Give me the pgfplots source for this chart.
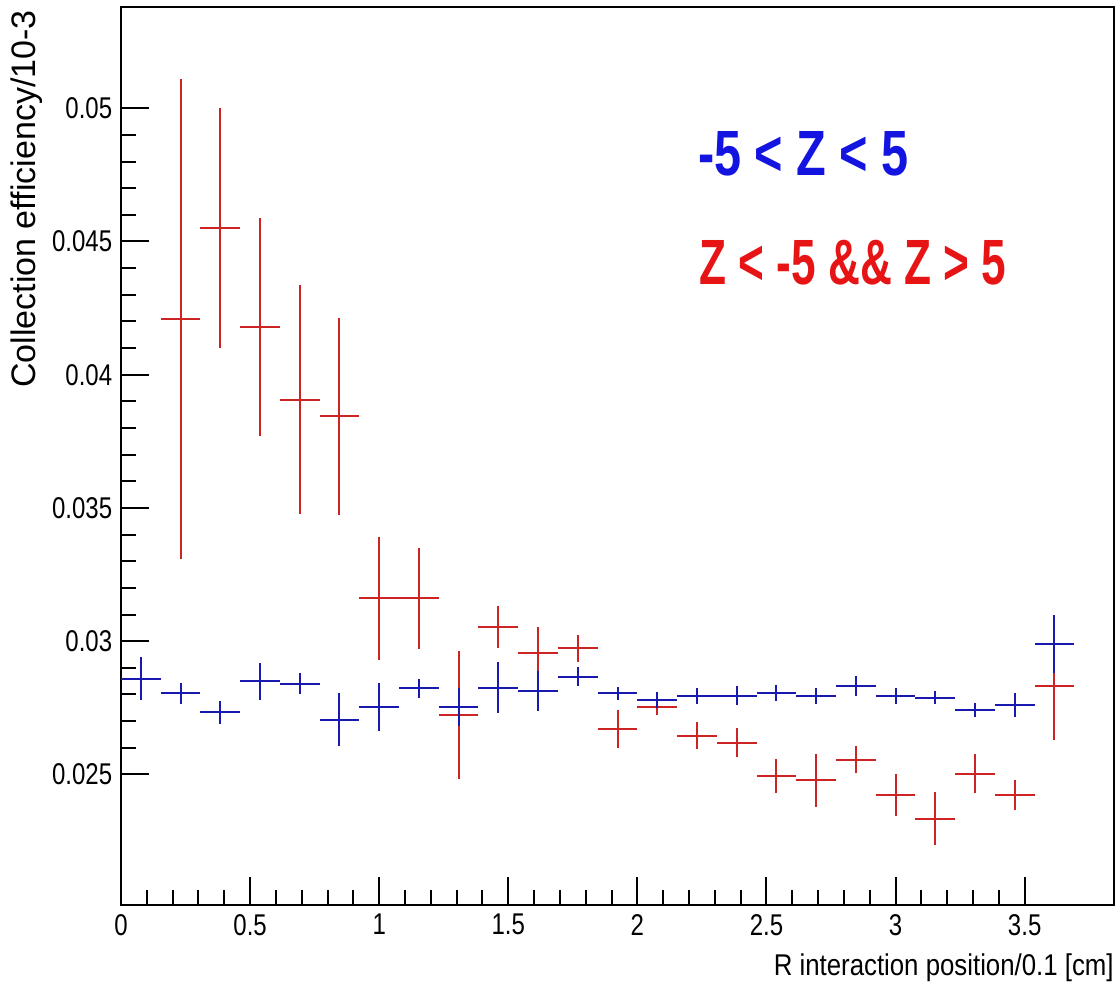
\documentclass[border=0pt]{standalone}
\usepackage{pgfplots}
\pgfplotsset{compat=1.18}
\usepackage{fontspec}
\setmainfont{Liberation Sans}

\definecolor{rootblue}{RGB}{25,25,175}
\definecolor{rootred}{RGB}{205,35,35}
\definecolor{txtblue}{RGB}{20,20,225}
\definecolor{txtred}{RGB}{230,20,20}

% bin centre, value, half bin width, error
\pgfplotstableread{
x y ex ey
0.0769 0.02859 0.0769 0.0008
0.2308 0.02805 0.0769 0.0004
0.3846 0.02733 0.0769 0.00043
0.5385 0.02850 0.0769 0.0007
0.6923 0.02840 0.0769 0.0004
0.8462 0.02706 0.0769 0.0010
1.0000 0.02752 0.0769 0.0009
1.1538 0.02823 0.0769 0.00037
1.3077 0.02753 0.0769 0.0007
1.4615 0.02825 0.0769 0.00096
1.6154 0.02813 0.0769 0.00075
1.7692 0.02867 0.0769 0.00035
1.9231 0.02804 0.0769 0.00025
2.0769 0.02779 0.0769 0.0003
2.2308 0.02796 0.0769 0.0003
2.3846 0.02796 0.0769 0.00035
2.5385 0.02806 0.0769 0.0003
2.6923 0.02796 0.0769 0.0003
2.8462 0.02831 0.0769 0.00037
3.0000 0.02796 0.0769 0.0003
3.1538 0.02788 0.0769 0.00025
3.3077 0.02742 0.0769 0.00025
3.4615 0.02760 0.0769 0.00045
3.6154 0.02990 0.0769 0.0011
}\inner

\pgfplotstableread{
x y ex ey
0.2308 0.04210 0.0769 0.0090
0.3846 0.04551 0.0769 0.0045
0.5385 0.04180 0.0769 0.0041
0.6923 0.03906 0.0769 0.0043
0.8462 0.03844 0.0769 0.0037
1.0000 0.03161 0.0769 0.0023
1.1538 0.03161 0.0769 0.0019
1.3077 0.02724 0.0769 0.0024
1.4615 0.03053 0.0769 0.00078
1.6154 0.02954 0.0769 0.0010
1.7692 0.02973 0.0769 0.0005
1.9231 0.02671 0.0769 0.0007
2.0769 0.02753 0.0769 0.0003
2.2308 0.02646 0.0769 0.0005
2.3846 0.02619 0.0769 0.00055
2.5385 0.02494 0.0769 0.00065
2.6923 0.02478 0.0769 0.0010
2.8462 0.02556 0.0769 0.00052
3.0000 0.02423 0.0769 0.0008
3.1538 0.02334 0.0769 0.0010
3.3077 0.02503 0.0769 0.00073
3.4615 0.02423 0.0769 0.00056
3.6154 0.02831 0.0769 0.0020
}\outer

\begin{document}
\begin{tikzpicture}
\useasboundingbox (-60.5pt,-40.5pt) rectangle (499pt,452.5pt);
\begin{axis}[
    scale only axis,
    width=496.5pt, height=449pt,
    xmin=0, xmax=3.846,
    ymin=0.0201, ymax=0.0538,
    axis line style={line width=1pt},
    tick align=inside,
    tick pos=left,
    major tick length=14pt,
    minor tick length=7.5pt,
    every tick/.style={black, line width=1pt},
    xtick={0,0.5,1,1.5,2,2.5,3,3.5},
    xticklabels={0,0.5,1,1.5,2,2.5,3,3.5},
    minor x tick num=4,
    ytick={0.025,0.03,0.035,0.04,0.045,0.05},
    yticklabels={0.025,0.03,0.035,0.04,0.045,0.05},
    minor y tick num=4,
    tick label style={font=\fontsize{15}{18}\selectfont, xscale=0.8},
    xticklabel style={yshift=-1pt},
    yticklabel style={xshift=-2pt},
    xlabel={R interaction position/0.1 [cm]},
    xlabel style={at={(axis description cs:1,0)}, anchor=north east,
      inner sep=0pt, yshift=-24pt, font=\fontsize{15}{18}\selectfont, xscale=0.86},
    ylabel={Collection efficiency/10-3},
    ylabel style={at={(axis description cs:-0.0786,0.9967)}, anchor=south east,
      inner sep=0pt, font=\fontsize{17}{20}\selectfont},
    clip=false,
]
\addplot[draw=none, mark=none,
    error bars/.cd, x dir=both, x explicit, y dir=both, y explicit,
    error mark=none, error bar style={line width=1pt, draw=rootred}]
    table[x=x, y=y, x error=ex, y error=ey] {\outer};
\addplot[draw=none, mark=none,
    error bars/.cd, x dir=both, x explicit, y dir=both, y explicit,
    error mark=none, error bar style={line width=1pt, draw=rootblue}]
    table[x=x, y=y, x error=ex, y error=ey] {\inner};
\node[anchor=west, inner sep=0pt, text=txtblue, xscale=0.76,
    font=\fontsize{32}{36}\selectfont\bfseries] at (axis cs:2.234,0.0483) {-5 < Z < 5};
\node[anchor=west, inner sep=0pt, text=txtred, xscale=0.69,
    font=\fontsize{32}{36}\selectfont\bfseries] at (axis cs:2.24,0.0442) {Z < -5 \&\& Z > 5};
\end{axis}
\end{tikzpicture}
\end{document}
